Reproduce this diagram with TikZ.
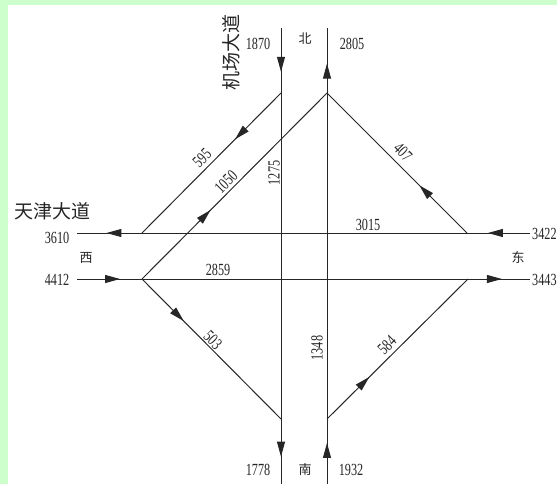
\documentclass[tikz,border=0pt]{standalone}
\usepackage{fontspec}
\setmainfont{Liberation Serif}
\newfontfamily\numfont[FakeStretch=0.72]{Liberation Serif}
\newfontfamily\cjk{Noto Sans CJK SC}
\usetikzlibrary{arrows.meta,decorations.markings}
\definecolor{bggreen}{HTML}{CCFFCC}
\tikzset{
  road/.style={line width=1pt, draw=black!85},
  tipmark/.style={postaction={decorate, decoration={markings,
      mark=at position #1 with {\arrow{Triangle[length=15pt,width=8pt]}}}}},
  num/.style={font=\numfont\fontsize{17}{17}\selectfont, inner sep=0pt, text=black!85},
  dir/.style={font=\cjk\fontsize{13}{13}\selectfont, inner sep=0pt, text=black!85},
  roadname/.style={font=\cjk\fontsize{19}{19}\selectfont, inner sep=0pt, text=black!85},
}
\begin{document}
\begin{tikzpicture}[x=1pt,y=-1pt]
\useasboundingbox (0,0) rectangle (557,484);
\fill[bggreen] (0,0) rectangle (557,484);
\fill[white] (8,5) rectangle (557,484);
% coordinates
\coordinate (LT) at (281,28);
\coordinate (LB) at (281,484);
\coordinate (RT) at (327,28);
\coordinate (RB) at (327,484);
\coordinate (HtR) at (530,233);
\coordinate (HtL) at (77,233);
\coordinate (HbL) at (77,279);
\coordinate (HbR) at (530,279);
\coordinate (J1) at (281,93);
\coordinate (Apex) at (327,93);
\coordinate (W1) at (142,233);
\coordinate (W2) at (142,279);
\coordinate (E1) at (467,233);
\coordinate (E2) at (468,279);
\coordinate (S1) at (281,419);
\coordinate (S2) at (327,419);
% main roads
\draw[road, tipmark=0.096, tipmark=0.94] (LT) -- (LB);
\draw[road, tipmark=0.09, tipmark=0.922] (RB) -- (RT);
\draw[road, tipmark=0.093, tipmark=0.935] (HtR) -- (HtL);
\draw[road, tipmark=0.095, tipmark=0.938] (HbL) -- (HbR);
% turning movements
\draw[road, tipmark=0.33] (J1) -- (W1);
\draw[road, tipmark=0.37] (W2) -- (Apex);
\draw[road, tipmark=0.34] (E1) -- (Apex);
\draw[road, tipmark=0.30] (W2) -- (S1);
\draw[road, tipmark=0.30] (S2) -- (E2);
% volume labels
\node[num] at (258,44) {1870};
\node[num] at (352,44) {2805};
\node[dir] at (305,39) {北};
\node[num] at (258,470) {1778};
\node[num] at (351,470) {1932};
\node[dir] at (305,470) {南};
\node[num] at (57,238) {3610};
\node[num] at (57,280) {4412};
\node[dir] at (86,258) {西};
\node[num, anchor=west] at (532,234) {3422};
\node[num, anchor=west] at (532,280) {3443};
\node[dir] at (518,257) {东};
\node[num] at (368,225) {3015};
\node[num] at (218,270) {2859};
\node[num, rotate=45] at (202,158) {595};
\node[num, rotate=45] at (226,182) {1050};
\node[num, rotate=90] at (274,173) {1275};
\node[num, rotate=-45] at (403,152) {407};
\node[num, rotate=-45] at (213,340) {503};
\node[num, rotate=90] at (317,348) {1348};
\node[num, rotate=45] at (387,345) {584};
\node[roadname] at (52,211) {天津大道};
\node[roadname, rotate=90] at (231,53) {机场大道};
\end{tikzpicture}
\end{document}
